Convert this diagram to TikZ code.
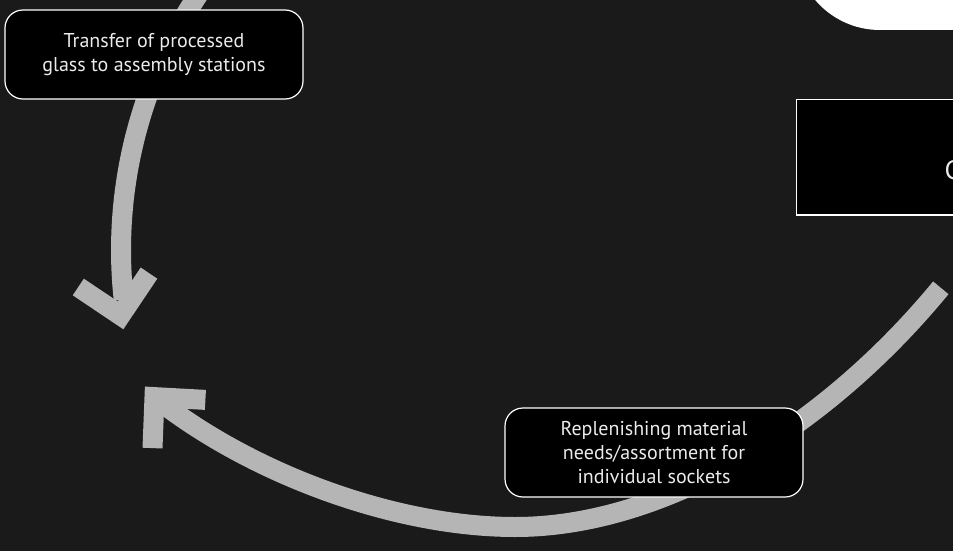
\documentclass[tikz,border=0pt]{standalone}
\usepackage{fontspec}
\setmainfont{PT Sans}
\usepackage{tikz}
\definecolor{bgdark}{RGB}{26,26,26}
\definecolor{arcgray}{RGB}{181,181,181}
\definecolor{txtwhite}{RGB}{235,235,235}

\begin{document}
\begin{tikzpicture}[x=1pt,y=-1pt,line cap=butt,line join=miter,
  flow/.style={draw=arcgray,line width=20pt},
  stepbox/.style={draw=white,line width=1.2pt,fill=black,rounded corners=18pt,minimum width=298pt,minimum height=89pt,align=center,text=txtwhite,font=\fontsize{20}{24}\selectfont,inner sep=0pt}]
\useasboundingbox (0,0) rectangle (953,551);
\clip (0,0) rectangle (953,551);
\fill[bgdark] (0,0) rectangle (953,551);
\coordinate (tipA) at (120.6,315.4);
\coordinate (armA1) at (78.3,287.0);
\coordinate (armA2) at (149.0,273.1);
\coordinate (tipB) at (154.5,397.1);
\coordinate (armB1) at (205.4,399.9);
\coordinate (armB2) at (152.5,448.1);
\coordinate (startB) at (158,400);
\coordinate (lowB) at (515,527);
\coordinate (endB) at (940.8,287.8);
\draw[flow] plot[domain=214.6:173.8,samples=40] ({582+461*cos(\x)},{250+461*sin(\x)});
\draw[flow] (startB) .. controls (252.6,473.9) and (395,527) .. (lowB) .. controls (665,527) and (826.5,426.8) .. (endB);
\draw[flow] (armA1) -- (tipA) -- (armA2);
\draw[flow] (armB1) -- (tipB) -- (armB2);
\node[stepbox] (transfer) at (154,54.5) {Transfer of processed\\glass to assembly stations};
\node[stepbox] (replenish) at (654,452.5) {Replenishing material\\needs/assortment for\\individual sockets};
\fill[white,rounded corners=85pt] (795,-300) rectangle (1200,30);
\draw[white,line width=1.2pt,fill=black] (796.7,99.3) rectangle (1100,215);
\node[anchor=base west,inner sep=0pt,text=txtwhite,font=\fontsize{26.6}{32}\selectfont] (cname) at (944.5,179.3) {C};
\end{tikzpicture}
\end{document}
